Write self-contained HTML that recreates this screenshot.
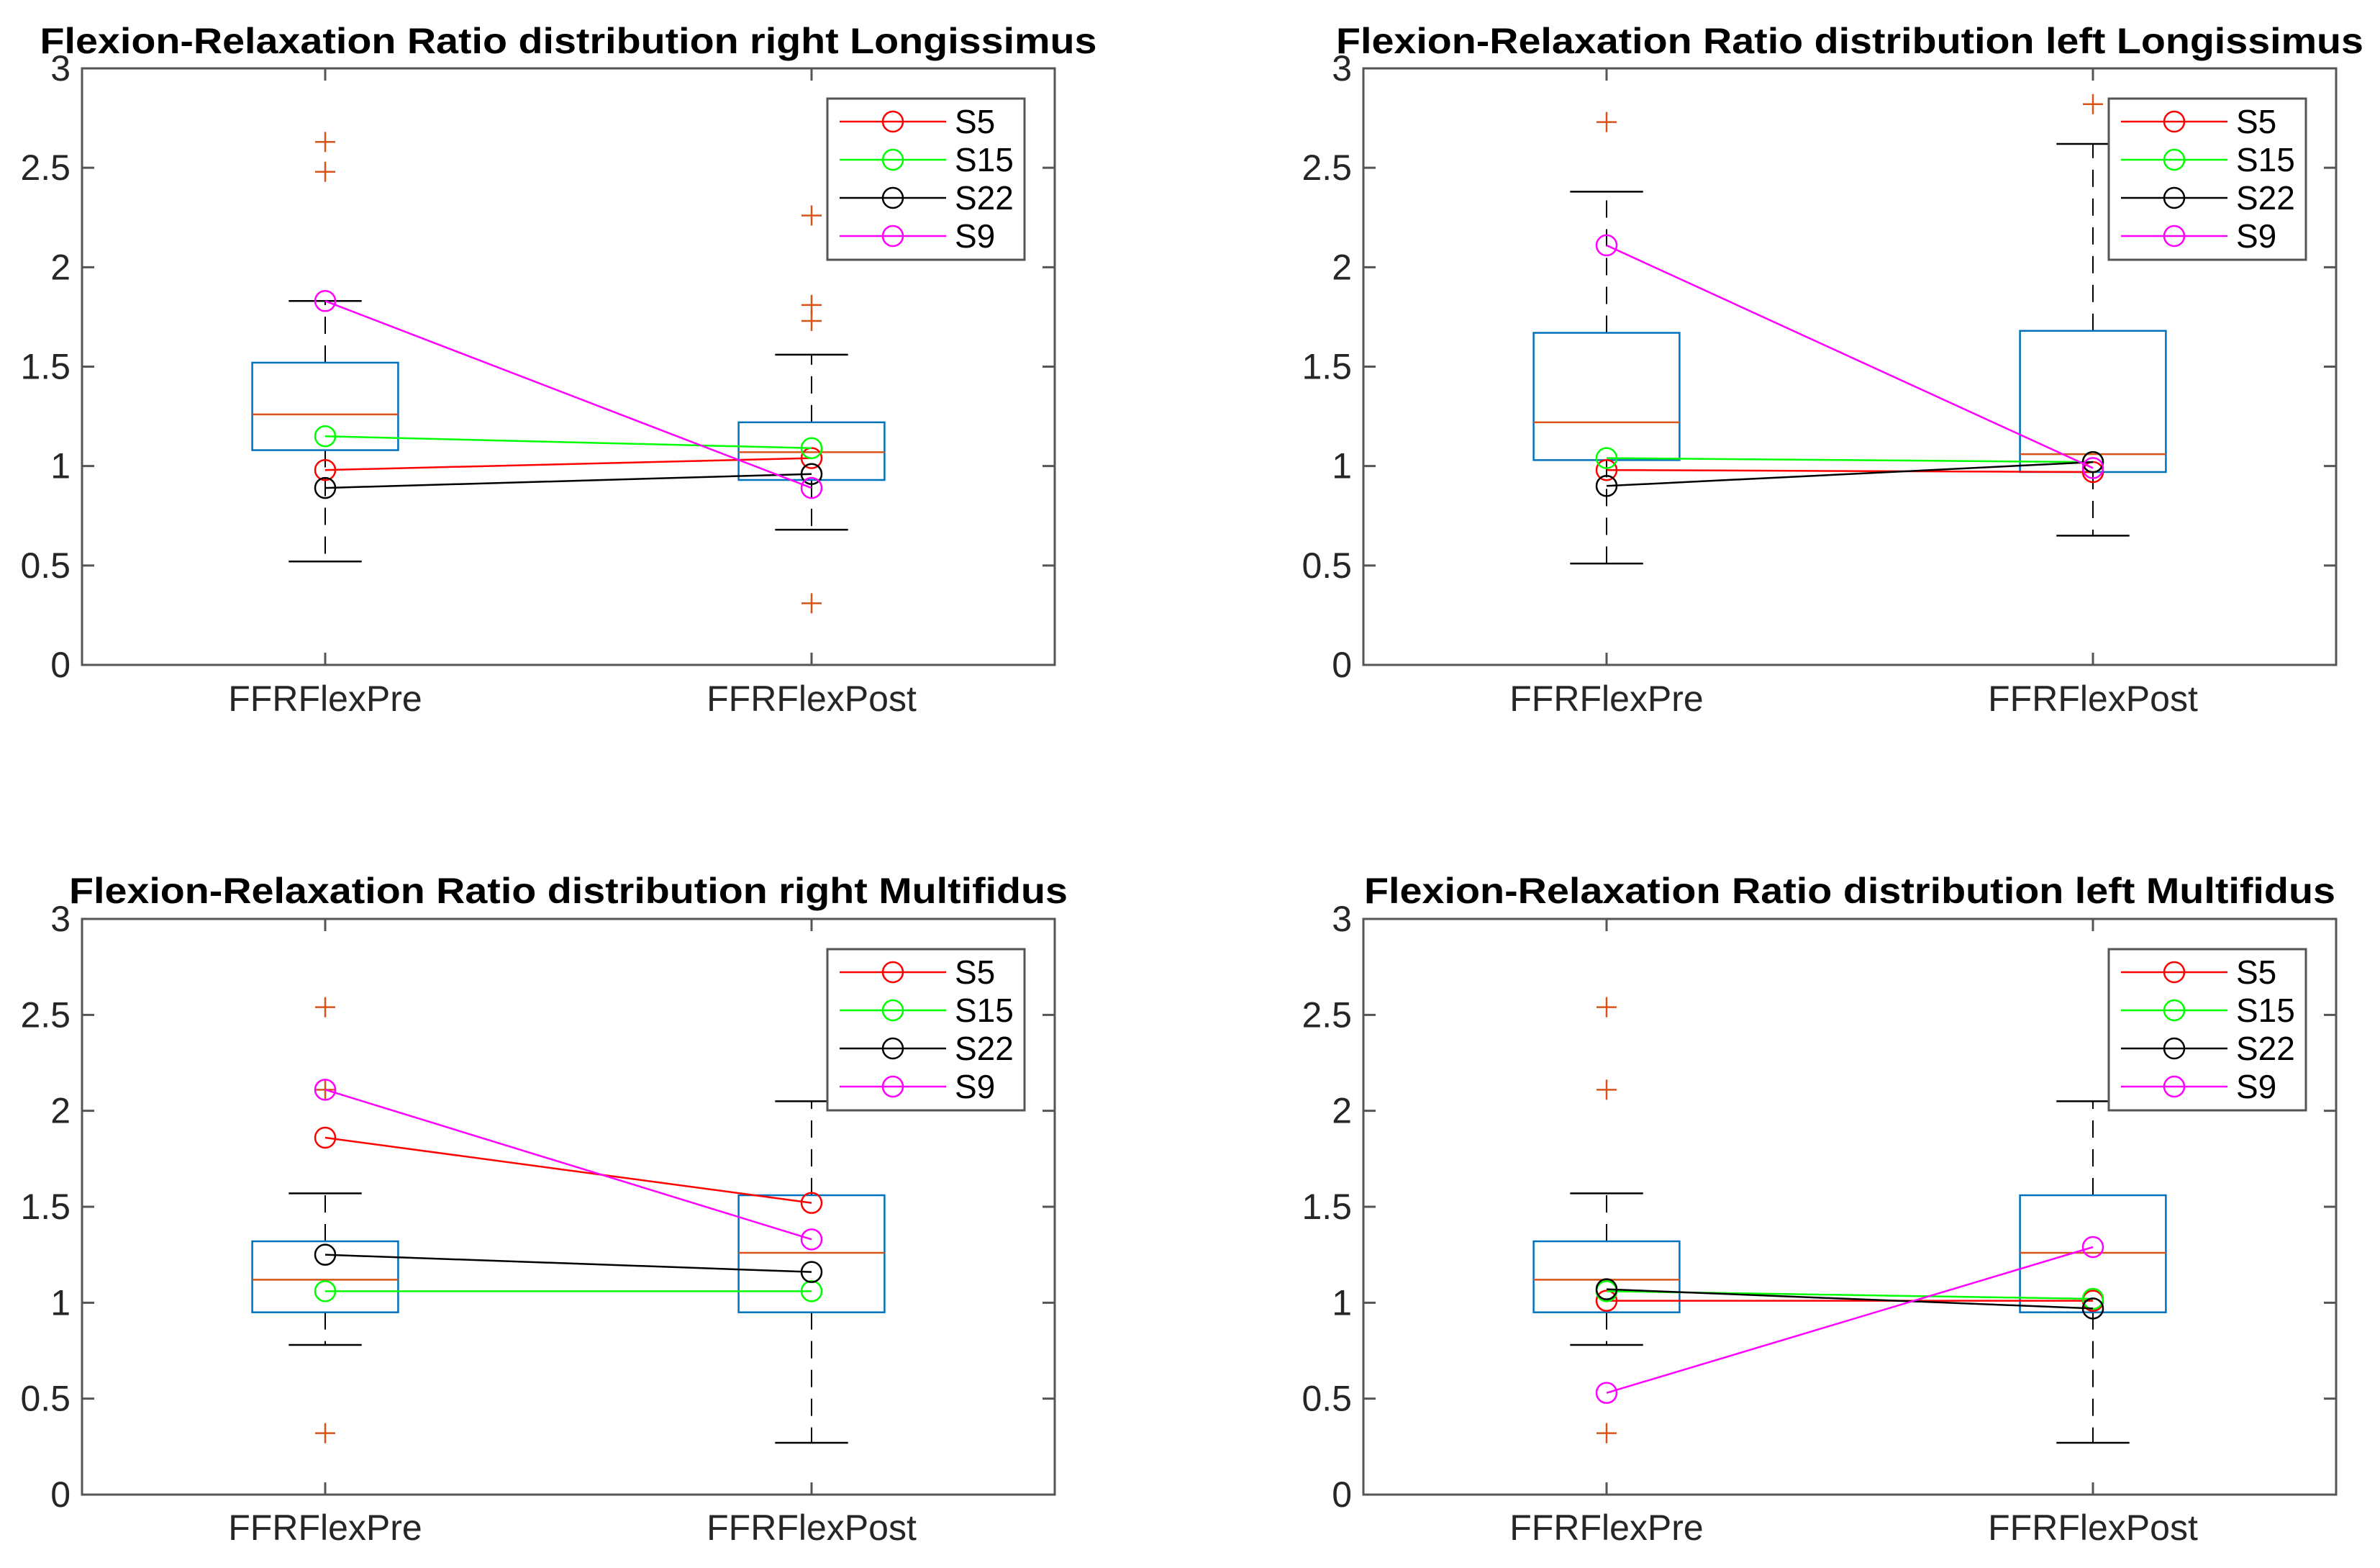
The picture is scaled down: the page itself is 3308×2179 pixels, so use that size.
<!DOCTYPE html>
<html><head><meta charset="utf-8"><style>
html,body{margin:0;padding:0;background:#fff;}
svg text{font-family:"Liberation Sans",Arial,sans-serif;}
</style></head><body>
<svg id="fig" width="3308" height="2174" viewBox="0 0 3308 2174" xmlns="http://www.w3.org/2000/svg"></svg>
<script>
const categories = ["FFRFlexPre","FFRFlexPost"];
const yTicks = [0,0.5,1,1.5,2,2.5,3];
const yTickLabels = ["0","0.5","1","1.5","2","2.5","3"];
const seriesNames = ["S5","S15","S22","S9"];
const seriesColors = ["#ff0000","#00ff00","#000000","#ff00ff"];
const titles = ["Flexion-Relaxation Ratio distribution right Longissimus","Flexion-Relaxation Ratio distribution left Longissimus","Flexion-Relaxation Ratio distribution right Multifidus","Flexion-Relaxation Ratio distribution left Multifidus"];
const boxRL = [{q1:1.08,q3:1.52,med:1.26,lo:0.52,hi:1.83,out:[2.48,2.63]},{q1:0.93,q3:1.22,med:1.07,lo:0.68,hi:1.56,out:[2.26,1.81,1.73,0.31]}];
const boxLL = [{q1:1.03,q3:1.67,med:1.22,lo:0.51,hi:2.38,out:[2.73]},{q1:0.97,q3:1.68,med:1.06,lo:0.65,hi:2.62,out:[2.82]}];
const boxRM = [{q1:0.95,q3:1.32,med:1.12,lo:0.78,hi:1.57,out:[2.54,2.11,0.32]},{q1:0.95,q3:1.56,med:1.26,lo:0.27,hi:2.05,out:[]}];
const boxLM = [{q1:0.95,q3:1.32,med:1.12,lo:0.78,hi:1.57,out:[2.54,2.11,0.32]},{q1:0.95,q3:1.56,med:1.26,lo:0.27,hi:2.05,out:[]}];
const subjRL = [[0.98,1.04],[1.15,1.09],[0.89,0.96],[1.83,0.89]];
const subjLL = [[0.98,0.97],[1.04,1.02],[0.90,1.02],[2.11,0.99]];
const subjRM = [[1.86,1.52],[1.06,1.06],[1.25,1.16],[2.11,1.33]];
const subjLM = [[1.01,1.01],[1.06,1.02],[1.07,0.97],[0.53,1.29]];

const NS="http://www.w3.org/2000/svg";
const fig=document.getElementById('fig');
function mk(tag,attrs,parent){const e=document.createElementNS(NS,tag);for(const k in attrs)e.setAttribute(k,attrs[k]);(parent||fig).appendChild(e);return e;}

const panels=[
 {x0:114,x1:1466,y0:95,y1:924,box:boxRL,subj:subjRL,title:titles[0],tw:1469,tb:74,xl:988,name:'right-longissimus'},
 {x0:1895,x1:3247,y0:95,y1:924,box:boxLL,subj:subjLL,title:titles[1],tw:1428,tb:74,xl:988,name:'left-longissimus'},
 {x0:114,x1:1466,y0:1277,y1:2077,box:boxRM,subj:subjRM,title:titles[2],tw:1388,tb:1255,xl:2140,name:'right-multifidus'},
 {x0:1895,x1:3247,y0:1277,y1:2077,box:boxLM,subj:subjLM,title:titles[3],tw:1350,tb:1255,xl:2140,name:'left-multifidus'}
];

panels.forEach(p=>{
 const g=mk('g',{});
 
 
 const X=v=>p.x0+(v-0.5)/2*(p.x1-p.x0);
 const Y=v=>p.y1-v/3*(p.y1-p.y0);
 const ppu=(p.x1-p.x0)/2;
 const t=mk('text',{x:(p.x0+p.x1)/2-p.tw/2,y:p.tb,'font-size':50,'font-weight':'bold',fill:'#000',textLength:p.tw,lengthAdjust:'spacingAndGlyphs'},g);
 t.textContent=p.title;
 
 
 const ax=mk('rect',{x:p.x0,y:p.y0,width:p.x1-p.x0,height:p.y1-p.y0,fill:'none',stroke:'#555',"stroke-width":3},g);
 
 
 yTicks.forEach((v,i)=>{
  const y=Y(v);
  mk('line',{x1:p.x0,x2:p.x0+17,y1:y,y2:y,stroke:'#555','stroke-width':3},g);
  mk('line',{x1:p.x1,x2:p.x1-17,y1:y,y2:y,stroke:'#555','stroke-width':3},g);
  const tl=mk('text',{x:p.x0-16,y:y+17,'text-anchor':'end','font-size':50,fill:'#262626'},g);
  tl.textContent=yTickLabels[i];
  
  
 });
 categories.forEach((c,i)=>{
  const x=X(i+1);
  mk('line',{x1:x,x2:x,y1:p.y1,y2:p.y1-17,stroke:'#555','stroke-width':3},g);
  mk('line',{x1:x,x2:x,y1:p.y0,y2:p.y0+17,stroke:'#555','stroke-width':3},g);
  const xl=mk('text',{x:x,y:p.xl,'text-anchor':'middle','font-size':50,fill:'#262626'},g);
  xl.textContent=c;
  
  
 });
 p.box.forEach((b,i)=>{
  const x=X(i+1), hw=0.15*ppu, cw=0.075*ppu;
  const bg=mk('g',{},g);
  
  
  mk('line',{x1:x,x2:x,y1:Y(b.q3),y2:Y(b.hi),stroke:'#000','stroke-width':2,'stroke-dasharray':'24 16'},bg);
  mk('line',{x1:x,x2:x,y1:Y(b.q1),y2:Y(b.lo),stroke:'#000','stroke-width':2,'stroke-dasharray':'24 16'},bg);
  mk('line',{x1:x-cw,x2:x+cw,y1:Y(b.hi),y2:Y(b.hi),stroke:'#000','stroke-width':2.5},bg);
  mk('line',{x1:x-cw,x2:x+cw,y1:Y(b.lo),y2:Y(b.lo),stroke:'#000','stroke-width':2.5},bg);
  mk('rect',{x:x-hw,y:Y(b.q3),width:2*hw,height:Y(b.q1)-Y(b.q3),fill:'none',stroke:'#0072BD','stroke-width':2.5},bg);
  mk('line',{x1:x-hw,x2:x+hw,y1:Y(b.med),y2:Y(b.med),stroke:'#D95319','stroke-width':2.5},bg);
  b.out.forEach(o=>{
   const y=Y(o);
   const og=mk('g',{stroke:'#D95319','stroke-width':2.5},bg);
   
   
   mk('line',{x1:x-14,x2:x+14,y1:y,y2:y},og);
   mk('line',{x1:x,x2:x,y1:y-14,y2:y+14},og);
  });
 });
 p.subj.forEach((s,k)=>{
  const sg=mk('g',{},g);
  
  
  mk('line',{x1:X(1),y1:Y(s[0]),x2:X(2),y2:Y(s[1]),stroke:seriesColors[k],'stroke-width':2.5},sg);
  s.forEach((v,i)=>mk('ellipse',{cx:X(i+1),cy:Y(v),rx:14,ry:14,fill:'none',stroke:seriesColors[k],'stroke-width':2.5},sg));
 });
 const lx=p.x1-316, ly=p.y0+42;
 const lg=mk('g',{},g);
 
 
 mk('rect',{x:lx,y:ly,width:274,height:224,fill:'#fff',stroke:'#555','stroke-width':3},lg);
 seriesNames.forEach((n,k)=>{
  const y=ly+32+k*53;
  const eg=mk('g',{},lg);
  
  
  mk('line',{x1:lx+17,x2:lx+165,y1:y,y2:y,stroke:seriesColors[k],'stroke-width':2.5},eg);
  mk('ellipse',{cx:lx+91,cy:y,rx:14,ry:14,fill:'none',stroke:seriesColors[k],'stroke-width':2.5},eg);
  const tx=mk('text',{x:lx+177,y:y+16,'font-size':46,fill:'#000'},eg);
  tx.textContent=n;
 });
});
</script>
</body></html>
